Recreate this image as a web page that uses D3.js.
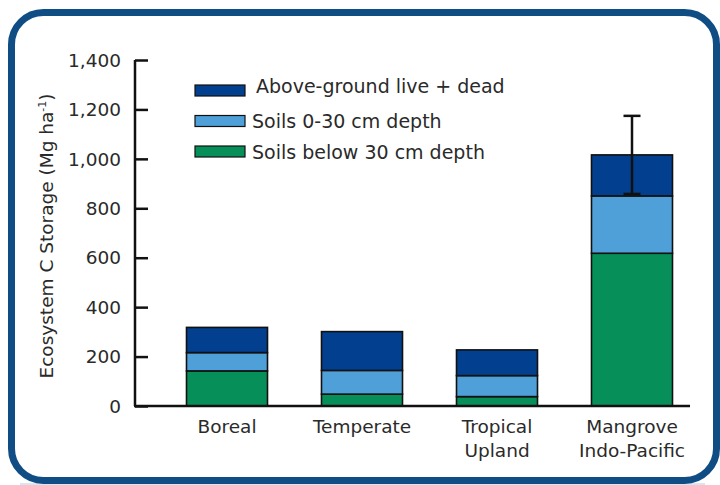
<!DOCTYPE html>
<html lang="en">
<head>
    <meta charset="UTF-8">
    <title>Ecosystem C Storage</title>
    <script src="https://d3js.org/d3.v7.min.js"></script>
    <style>
        body { margin: 0; background: #fff; }
        svg { display: block; }
        text { font-family: "DejaVu Sans", "Liberation Sans", sans-serif; fill: #2a2a2a; }
        .tick-label { font-size: 18.5px; }
        .cat-label { font-size: 18.5px; }
        .legend-label { font-size: 19px; }
    </style>
</head>
<body>
    <script>
        // data (Mg C per ha)
        const categories = [["Boreal"], ["Temperate"], ["Tropical", "Upland"], ["Mangrove", "Indo-Pacific"]];
        const soilsDeep = [142, 48, 38, 618];     // soils below 30 cm
        const soilsTop = [74, 96, 85, 232];       // soils 0-30 cm
        const aboveGround = [102, 157, 104, 166]; // above-ground live + dead
        const mangroveError = 158;                 // +/- on total for mangrove
        const yTicks = [0, 200, 400, 600, 800, 1000, 1200, 1400];
        const seriesNames = ["Above-ground live + dead", "Soils 0-30 cm depth", "Soils below 30 cm depth"];
        const colors = { above: "#023f8e", top: "#4f9fd8", deep: "#068f58" };

        const width = 720, height = 485;

        const svg = d3.select("body").append("svg")
            .attr("width", width)
            .attr("height", height);

        // rounded frame
        svg.append("line")
            .attr("x1", 20).attr("x2", 705)
            .attr("y1", 484).attr("y2", 484)
            .attr("stroke", "#b3cde3").attr("stroke-width", 1);
        svg.append("rect")
            .attr("x", 11.5).attr("y", 12.5)
            .attr("width", 705).attr("height", 468)
            .attr("rx", 32).attr("ry", 32)
            .attr("fill", "#fff")
            .attr("stroke", "#0f4d84")
            .attr("stroke-width", 7);

        const axisX = 135, axisRight = 690;
        const y = d3.scaleLinear().domain([0, 1400]).range([406, 60]);
        const x = d3.scaleBand()
            .domain(categories.map(d => d.join(" ")))
            .range([159.5, 699.5])
            .paddingInner(0.4)
            .paddingOuter(0.2);

        const rows = categories.map((c, i) => ({
            name: c.join(" "),
            lines: c,
            deep: soilsDeep[i],
            top: soilsTop[i],
            above: aboveGround[i]
        }));

        const stack = d3.stack().keys(["deep", "top", "above"])(rows);

        const g = svg.append("g");

        stack.forEach(layer => {
            g.selectAll(null)
                .data(layer)
                .join("rect")
                .attr("x", d => x(d.data.name))
                .attr("width", x.bandwidth())
                .attr("y", d => y(d[1]))
                .attr("height", d => y(d[0]) - y(d[1]))
                .attr("fill", colors[layer.key])
                .attr("stroke", "#111")
                .attr("stroke-width", 1.6);
        });

        // error bar on mangrove total
        const mg = rows[3];
        const mgTotal = mg.deep + mg.top + mg.above;
        const cx = x(mg.name) + x.bandwidth() / 2;
        const eb = svg.append("g").attr("stroke", "#111").attr("stroke-width", 2.5);
        eb.append("line").attr("x1", cx).attr("x2", cx)
            .attr("y1", y(mgTotal + mangroveError)).attr("y2", y(mgTotal - mangroveError));
        [mgTotal + mangroveError, mgTotal - mangroveError].forEach(v => {
            eb.append("line").attr("x1", cx - 8.5).attr("x2", cx + 8.5)
                .attr("y1", y(v)).attr("y2", y(v));
        });

        // y axis with inward ticks
        const yAxis = d3.axisRight(y).tickValues(yTicks).tickSize(13).tickFormat("");
        const ya = svg.append("g").attr("transform", `translate(${axisX},0)`).call(yAxis);
        ya.select(".domain").remove();
        ya.selectAll("line").attr("stroke", "#111").attr("stroke-width", 2.5);
        svg.append("line")
            .attr("x1", axisX).attr("x2", axisX)
            .attr("y1", y(1400)).attr("y2", y(0))
            .attr("stroke", "#111").attr("stroke-width", 2.5);

        svg.selectAll(".tick-label")
            .data(yTicks)
            .join("text")
            .attr("class", "tick-label")
            .attr("x", 121)
            .attr("y", d => y(d))
            .attr("dy", "0.36em")
            .attr("text-anchor", "end")
            .text(d => d3.format(",")(d));

        // baseline
        svg.append("line")
            .attr("x1", axisX - 1).attr("x2", axisRight)
            .attr("y1", y(0)).attr("y2", y(0))
            .attr("stroke", "#111").attr("stroke-width", 2.5);

        // category labels
        const cl = svg.selectAll(".cat-label")
            .data(rows)
            .join("text")
            .attr("class", "cat-label")
            .attr("text-anchor", "middle")
            .attr("transform", d => `translate(${x(d.name) + x.bandwidth() / 2},433)`);
        cl.selectAll("tspan")
            .data(d => d.lines)
            .join("tspan")
            .attr("x", 0)
            .attr("y", (d, i) => i * 24)
            .text(d => d);

        // y title
        const yt = svg.append("text")
            .attr("transform", "translate(53,236) rotate(-90)")
            .attr("text-anchor", "middle")
            .style("font-size", "18.5px");
        yt.append("tspan").text("Ecosystem C Storage (Mg ha");
        yt.append("tspan").attr("dy", -7).style("font-size", "11px").text("-1");
        yt.append("tspan").attr("dy", 7).text(")");

        // legend
        const legendKeys = ["above", "top", "deep"];
        const lg = svg.append("g").attr("transform", "translate(195,85)");
        const li = lg.selectAll("g")
            .data(seriesNames)
            .join("g")
            .attr("transform", (d, i) => `translate(0,${i * 30.5})`);
        li.append("rect")
            .attr("width", 50).attr("height", 11)
            .attr("fill", (d, i) => colors[legendKeys[i]])
            .attr("stroke", "#111").attr("stroke-width", 1.2);
        li.append("text")
            .attr("class", "legend-label")
            .attr("x", (d, i) => i === 0 ? 61 : 57)
            .attr("y", (d, i) => i === 0 ? 1 : 6)
            .attr("dy", "0.36em")
            .text(d => d);
    </script>
</body>
</html>
